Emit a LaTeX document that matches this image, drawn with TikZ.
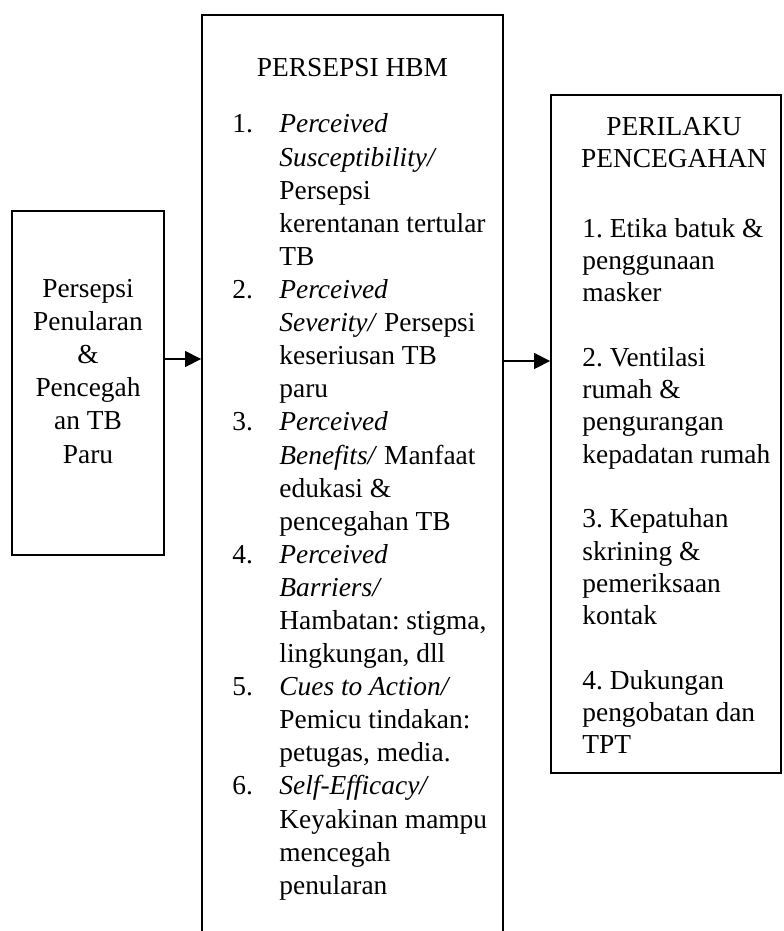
\documentclass[tikz,border=0pt]{standalone}
\usepackage{fontspec}
\setmainfont{Liberation Serif}
\frenchspacing
\usetikzlibrary{arrows.meta,fit}
\begin{document}
\begin{tikzpicture}[x=0.5pt,y=-0.5pt,
  frame/.style={draw, line width=0.9pt, inner sep=0pt},
  txt/.style={inner sep=0pt, font=\fontsize{13.7}{16.55}\selectfont\frenchspacing},
  txtr/.style={inner sep=0pt, font=\fontsize{13.7}{16.15}\selectfont\frenchspacing},
  arr/.style={line width=0.65pt, -{Triangle[length=8pt,width=8pt]}}]
\useasboundingbox (0,0) rectangle (783,931);
\clip (0,0) rectangle (783,931);
% boxes
\node[frame, fit={(12,211) (164,555)}] (left) {};
\node[frame, fit={(202,15) (503,990)}] (mid) {};
\node[frame, fit={(551,95) (781,773)}] (right) {};
% left text
\node[txt, anchor=base, font=\fontsize{13.7}{16.6}\selectfont] (tleft) at (88,297)
  {\begin{tabular}[t]{@{}c@{}}Persepsi\\Penularan\\\&\\Pencegah\\an TB\\Paru\end{tabular}};
% middle text
\node[txt, anchor=base] (tmidtitle) at (352.5,77) {PERSEPSI HBM};
\node[txt, anchor=base west] (tmidlist) at (232,133)
  {\begin{tabular}[t]{@{}p{23.5pt}@{}l@{}}
  1. & \textit{Perceived}\\
     & \textit{Susceptibility/}\\
     & Persepsi\\
     & kerentanan tertular\\
     & TB\\
  2. & \textit{Perceived}\\
     & \textit{Severity/} Persepsi\\
     & keseriusan TB\\
     & paru\\
  3. & \textit{Perceived}\\
     & \textit{Benefits/} Manfaat\\
     & edukasi \&\\
     & pencegahan TB\\
  4. & \textit{Perceived}\\
     & \textit{Barriers/}\\
     & Hambatan: stigma,\\
     & lingkungan, dll\\
  5. & \textit{Cues to Action/}\\
     & Pemicu tindakan:\\
     & petugas, media.\\
  6. & \textit{Self-Efficacy/}\\
     & Keyakinan mampu\\
     & mencegah\\
     & penularan
  \end{tabular}};
% right text
\node[txtr, anchor=base] (trighttitle) at (674,135)
  {\begin{tabular}[t]{@{}c@{}}PERILAKU\\PENCEGAHAN\end{tabular}};
\node[txtr, anchor=base west] (trightlist) at (582,237)
  {\begin{tabular}[t]{@{}l@{}}
  1. Etika batuk \&\\
  penggunaan\\
  masker\\
  \\
  2. Ventilasi\\
  rumah \&\\
  pengurangan\\
  kepadatan rumah\\
  \\
  3. Kepatuhan\\
  skrining \&\\
  pemeriksaan\\
  kontak\\
  \\
  4. Dukungan\\
  pengobatan dan\\
  TPT
  \end{tabular}};
% connectors
\coordinate (ay1) at (0,359);
\coordinate (ay2) at (0,361);
\draw[arr] (left.east |- ay1) -- (mid.west |- ay1);
\draw[arr] (mid.east |- ay2) -- (right.west |- ay2);
\end{tikzpicture}
\end{document}
